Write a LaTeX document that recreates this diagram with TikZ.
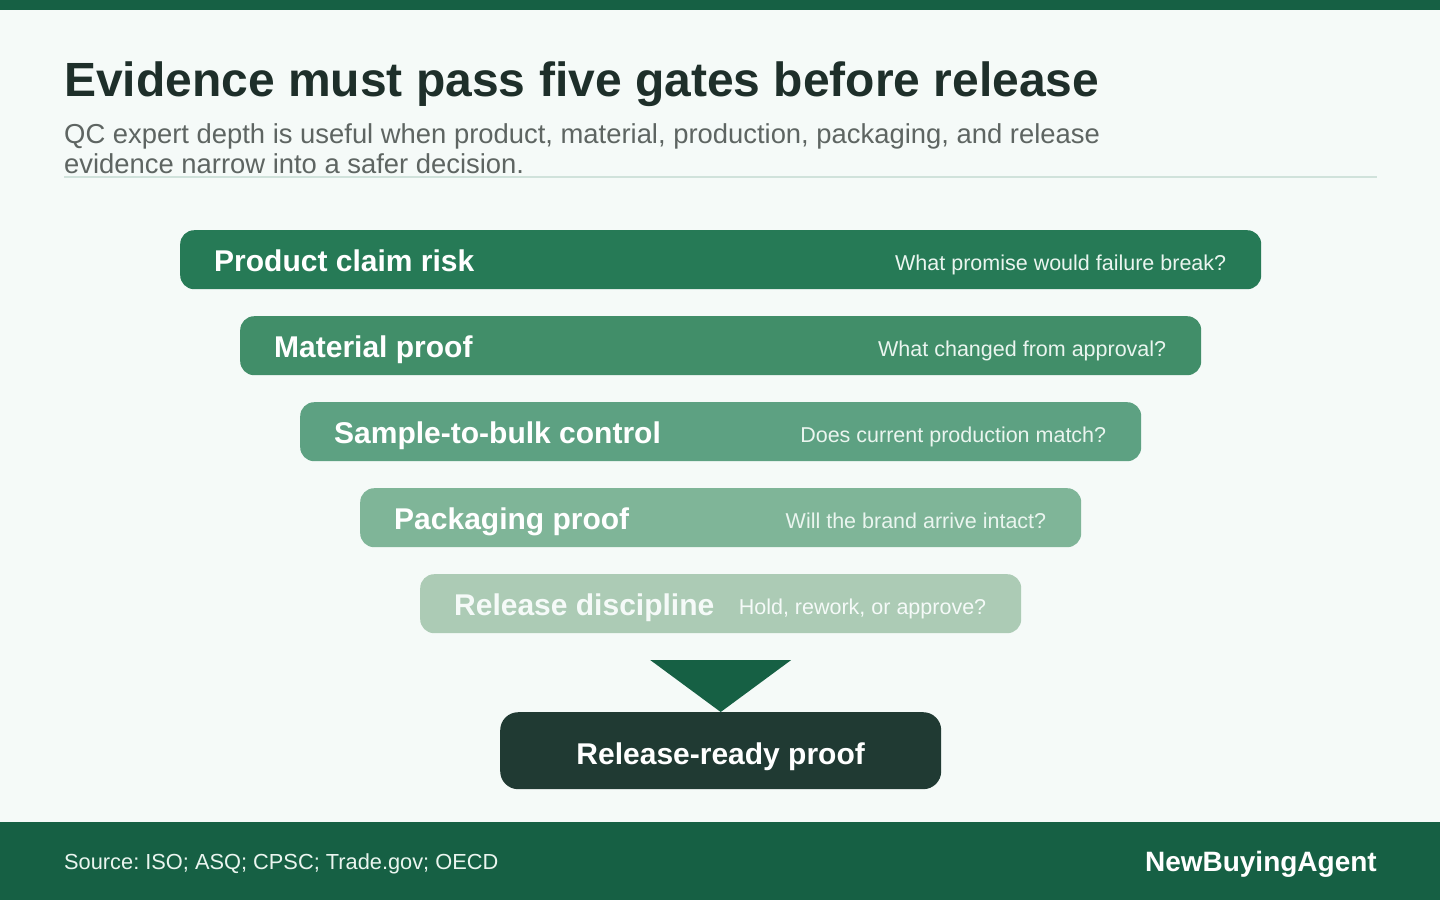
\documentclass[tikz,border=0pt]{standalone}
\usepackage{fontspec}
\setmainfont{Liberation Sans}
\usetikzlibrary{positioning,calc}
\definecolor{qcband}{HTML}{166044}
\definecolor{qcbg}{HTML}{F5FAF8}
\definecolor{qcink}{HTML}{1E2F2A}
\definecolor{qcmute}{HTML}{5E6562}
\definecolor{qcrule}{HTML}{D0E2DB}
\definecolor{qcgateA}{HTML}{267A56}
\definecolor{qcgateB}{HTML}{418E69}
\definecolor{qcgateC}{HTML}{5DA182}
\definecolor{qcgateD}{HTML}{7FB598}
\definecolor{qcgateE}{HTML}{ACCBB5}
\definecolor{qcdark}{HTML}{203A33}
\definecolor{qcask}{HTML}{EAF5EF}
\tikzset{
  gate/.style={rectangle, rounded corners=14pt, minimum height=59pt, inner sep=0pt, anchor=north west},
  gatelbl/.style={anchor=base west, inner sep=0pt, text=white, font=\fontsize{30}{34}\selectfont\bfseries},
  ask/.style={anchor=base east, inner sep=0pt, text=qcask, font=\fontsize{21.5}{25}\selectfont},
  sub/.style={anchor=base west, inner sep=0pt, text=qcmute, font=\fontsize{27.4}{31}\selectfont},
}

\begin{document}
\frenchspacing
\begin{tikzpicture}[x=1pt, y=-1pt]
  \useasboundingbox (0,0) rectangle (1440,900);
  \fill[qcbg] (0,0) rectangle (1440,900);
  \fill[qcband] (0,0) rectangle (1440,10);
  \fill[qcband] (0,822) rectangle (1440,900);

  % heading
  \node[anchor=base west, inner sep=0pt, text=qcink, font=\fontsize{48}{52}\selectfont\bfseries] (title) at (64,96) {Evidence must pass five gates before release};
  \node[sub] (sub1) at (64,143) {QC expert depth is useful when product, material, production, packaging, and release};
  \node[sub] (sub2) at (64,173) {evidence narrow into a safer decision.};
  \draw[qcrule, line width=2pt] (64,177) -- (1377,177);

  % the five gates
  \node[gate, fill=qcgateA, minimum width=1081pt] (g1) at (180,230) {};
  \node[gate, fill=qcgateB, minimum width=961pt] (g2) at (240,316) {};
  \node[gate, fill=qcgateC, minimum width=841pt] (g3) at (300,402) {};
  \node[gate, fill=qcgateD, minimum width=721pt] (g4) at (360,488) {};
  \node[gate, fill=qcgateE, minimum width=601pt] (g5) at (420,574) {};

  \node[gatelbl] (l1) at ($(g1.north west)+(34,41.5)$) {Product claim risk};
  \node[gatelbl] (l2) at ($(g2.north west)+(34,41.5)$) {Material proof};
  \node[gatelbl] (l3) at ($(g3.north west)+(34,41.5)$) {Sample-to-bulk control};
  \node[gatelbl] (l4) at ($(g4.north west)+(34,41.5)$) {Packaging proof};
  \node[gatelbl, text=qcbg] (l5) at ($(g5.north west)+(34,41.5)$) {Release discipline};

  \node[ask] (q1) at ($(g1.north east)+(-35,40)$) {What promise would failure break?};
  \node[ask] (q2) at ($(g2.north east)+(-35,40)$) {What changed from approval?};
  \node[ask] (q3) at ($(g3.north east)+(-35,40)$) {Does current production match?};
  \node[ask] (q4) at ($(g4.north east)+(-35,40)$) {Will the brand arrive intact?};
  \node[ask, text=qcbg] (q5) at ($(g5.north east)+(-35,40)$) {Hold, rework, or approve?};

  % outcome
  \node[gate, fill=qcdark, minimum width=441pt, minimum height=77pt, rounded corners=18pt] (final) at (500,712) {};
  \node[anchor=base, inner sep=0pt, text=white, font=\fontsize{30}{34}\selectfont\bfseries] (finaltxt) at ($(final.north)+(0,52)$) {Release-ready proof};
  \fill[qcband] ($(final.north)+(-70.5,-52)$) -- ($(final.north)+(70.5,-52)$) -- (final.north) -- cycle;

  % footer
  \node[anchor=base west, inner sep=0pt, text=qcask, font=\fontsize{21.8}{25}\selectfont] (src) at (64,869) {Source: ISO; ASQ; CPSC; Trade.gov; OECD};
  \node[anchor=base east, inner sep=0pt, text=white, font=\fontsize{28}{32}\selectfont\bfseries] (brand) at (1377,871) {NewBuyingAgent};
\end{tikzpicture}
\end{document}
